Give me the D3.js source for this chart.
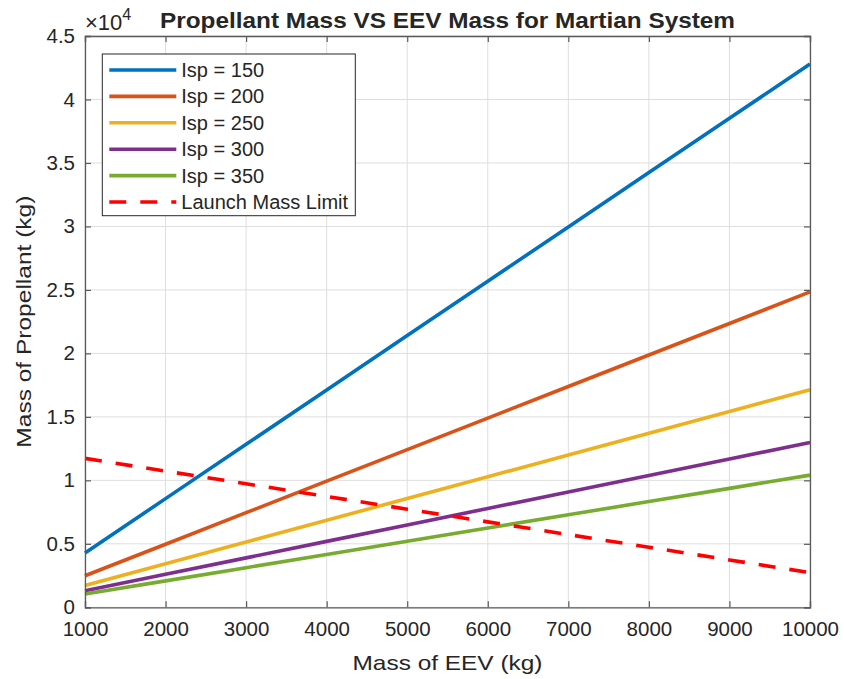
<!DOCTYPE html>
<head>
  <meta charset="utf-8">
  <title>Propellant Mass VS EEV Mass for Martian System</title>
  <script src="https://d3js.org/d3.v7.min.js"></script>
  <style>
    body { margin: 0; background: #fff; }
    text { font-family: "Liberation Sans", Arial, Helvetica, sans-serif; fill: #262626; }
  </style>
</head>
<body>
  <svg id="main-svg"></svg>
  <script type="text/javascript">
    // EEV mass (kg)
    var eevMass = [1000, 2000, 3000, 4000, 5000, 6000, 7000, 8000, 9000, 10000];

    // propellant mass (kg)
    var isp150 = [4280, 8560, 12840, 17120, 21400, 25680, 29960, 34240, 38520, 42800];
    var isp200 = [2484, 4968, 7452, 9936, 12420, 14904, 17388, 19872, 22356, 24840];
    var isp250 = [1714, 3428, 5142, 6856, 8570, 10284, 11998, 13712, 15426, 17140];
    var isp300 = [1298, 2596, 3894, 5192, 6490, 7788, 9086, 10384, 11682, 12980];
    var isp350 = [1041, 2082, 3123, 4164, 5205, 6246, 7287, 8328, 9369, 10410];
    var launchLimit = [11730, 10730, 9730, 8730, 7730, 6730, 5730, 4730, 3730, 2730];

    var seriesNames = ["Isp = 150", "Isp = 200", "Isp = 250", "Isp = 300", "Isp = 350", "Launch Mass Limit"];
    var seriesColors = ["#0072BD", "#D95319", "#EDB120", "#7E2F8E", "#77AC30", "#FF0000"];

    var xTicks = [1000, 2000, 3000, 4000, 5000, 6000, 7000, 8000, 9000, 10000];
    var yTicks = [0, 5000, 10000, 15000, 20000, 25000, 30000, 35000, 40000, 45000];

    const svg_width = 844;
    const svg_height = 679;

    var margin = { top: 36, right: 34, bottom: 72, left: 85 };
    var width = 810 - margin.left;
    var height = 607.3 - margin.top;

    var x = d3.scaleLinear().domain([1000, 10000]).range([0, width]);
    var y = d3.scaleLinear().domain([0, 45000]).range([height, 0]);

    var svg = d3.select("#main-svg")
      .attr("width", svg_width)
      .attr("height", svg_height)
      .append("g")
      .attr("transform", "translate(" + margin.left + "," + margin.top + ")");

    // grid
    svg.append("g").selectAll("line")
      .data(xTicks)
      .enter().append("line")
      .attr("x1", d => x(d)).attr("x2", d => x(d))
      .attr("y1", 0).attr("y2", height)
      .attr("stroke", "#dedede").attr("stroke-width", 1);

    svg.append("g").selectAll("line")
      .data(yTicks)
      .enter().append("line")
      .attr("x1", 0).attr("x2", width)
      .attr("y1", d => y(d)).attr("y2", d => y(d))
      .attr("stroke", "#dedede").attr("stroke-width", 1);

    // series
    var allSeries = [isp150, isp200, isp250, isp300, isp350, launchLimit];

    var line = d3.line()
      .x((d, i) => x(eevMass[i]))
      .y(d => y(d));

    svg.append("g").selectAll("path")
      .data(allSeries)
      .enter().append("path")
      .attr("d", d => line(d))
      .attr("fill", "none")
      .attr("stroke", (d, i) => seriesColors[i])
      .attr("stroke-width", 3.6)
      .attr("stroke-dasharray", (d, i) => i === 5 ? "17,14" : null);

    // axes: ticks inside, box on
    var xAxis = d3.axisBottom(x).tickValues(xTicks).tickSize(-6).tickPadding(14).tickFormat(d3.format("d"));
    var yAxis = d3.axisLeft(y).tickValues(yTicks).tickSize(-6).tickPadding(10)
      .tickFormat(d => d === 0 ? "0" : d3.format("")(d / 10000));

    svg.append("g")
      .attr("transform", "translate(0," + height + ")")
      .call(xAxis);
    svg.append("g").call(yAxis);

    svg.append("g").call(d3.axisTop(x).tickValues(xTicks).tickSize(-6).tickFormat(""));
    svg.append("g").attr("transform", "translate(" + width + ",0)")
      .call(d3.axisRight(y).tickValues(yTicks).tickSize(-6).tickFormat(""));

    svg.selectAll(".domain").attr("stroke", "#5a5a5a").attr("stroke-width", 1.3);
    svg.selectAll(".tick line").attr("stroke", "#5a5a5a").attr("stroke-width", 1.2);
    svg.selectAll(".tick text")
      .style("font-size", "20.5px")
      .style("font-family", "\"Liberation Sans\", Arial, sans-serif")
      .attr("fill", "#262626");

    // exponent label
    var expo = svg.append("text")
      .attr("x", 0)
      .attr("y", -6)
      .style("font-size", "22px");
    expo.append("tspan").text("\u00d710");
    expo.append("tspan").attr("dy", "-10").style("font-size", "16px").text("4");

    // title
    svg.append("text")
      .attr("x", width / 2)
      .attr("y", -8)
      .attr("text-anchor", "middle")
      .attr("textLength", 575)
      .attr("lengthAdjust", "spacingAndGlyphs")
      .style("font-size", "21.5px")
      .style("font-weight", "bold")
      .attr("fill", "#000")
      .text("Propellant Mass VS EEV Mass for Martian System");

    // axis labels
    svg.append("text")
      .attr("x", width / 2)
      .attr("y", height + 63)
      .attr("text-anchor", "middle")
      .attr("textLength", 190)
      .attr("lengthAdjust", "spacingAndGlyphs")
      .style("font-size", "21px")
      .text("Mass of EEV (kg)");

    svg.append("text")
      .attr("transform", "rotate(-90)")
      .attr("x", -height / 2)
      .attr("y", -margin.left + 31)
      .attr("text-anchor", "middle")
      .attr("textLength", 252)
      .attr("lengthAdjust", "spacingAndGlyphs")
      .style("font-size", "21px")
      .text("Mass of Propellant (kg)");

    // legend
    var legend = svg.append("g")
      .attr("transform", "translate(" + (102.3 - margin.left) + "," + (54 - margin.top) + ")");

    legend.append("rect")
      .attr("width", 253)
      .attr("height", 161.7)
      .attr("fill", "#fff")
      .attr("stroke", "#262626")
      .attr("stroke-width", 1);

    var item = legend.selectAll(".item")
      .data(seriesNames)
      .enter().append("g")
      .attr("class", "item")
      .attr("transform", (d, i) => "translate(0," + (16 + i * 26.4) + ")");

    item.append("line")
      .attr("x1", 7).attr("x2", 74)
      .attr("stroke", (d, i) => seriesColors[i])
      .attr("stroke-width", 3.6)
      .attr("stroke-dasharray", (d, i) => i === 5 ? "17,14" : null);

    item.append("text")
      .attr("x", 79)
      .attr("dy", "0.35em")
      .style("font-size", "20px")
      .attr("fill", "#000")
      .text(d => d);
  </script>
</body>
